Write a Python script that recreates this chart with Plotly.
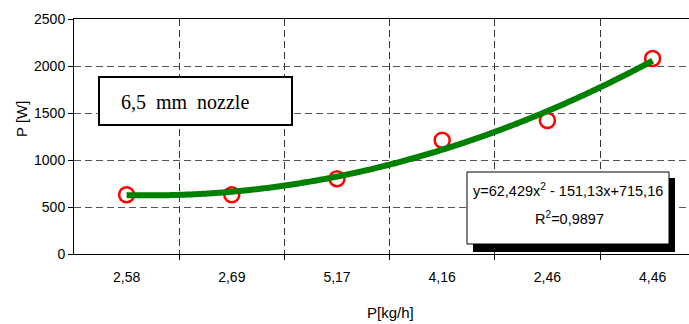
import numpy as np
import plotly.graph_objects as go

# ---- data ----
categories = ["2,58", "2,69", "5,17", "4,16", "2,46", "4,46"]
power_w = [630, 630, 800, 1210, 1420, 2080]
trend_coef = [62.429, -151.13, 715.16]   # y = a x^2 + b x + c (Excel poly trendline)
trend_label = "y=62,429x<sup>2</sup> - 151,13x+715,16"
r2_label = "R<sup>2</sup>=0,9897"
box_label = "6,5\u00a0\u00a0mm\u00a0\u00a0nozzle"
y_ticks = [0, 500, 1000, 1500, 2000, 2500]

xpos = list(range(1, len(categories) + 1))
xt = np.linspace(1, len(categories), 300)
yt = np.polyval(trend_coef, xt)

W, H = 689, 324
L, R, T, B = 74, 0, 19, 70
PW, PH = W - L - R, H - T - B


def px(x):
    return (x - L) / PW


def py(y):
    return (H - B - y) / PH


fig = go.Figure()
fig.add_trace(go.Scatter(
    x=xpos, y=power_w, mode="markers",
    marker=dict(symbol="circle-open", size=15, color="#ff0000",
                line=dict(width=2.5, color="#ff0000")),
    showlegend=False, hoverinfo="skip"))
fig.add_trace(go.Scatter(
    x=xt, y=yt, mode="lines",
    line=dict(color="#008000", width=6, simplify=False),
    showlegend=False, hoverinfo="skip"))

axis_font = dict(family="Liberation Sans, Arial, sans-serif", size=14, color="#000")

fig.update_layout(
    width=W, height=H,
    margin=dict(l=L, r=R, t=T, b=B, pad=0),
    paper_bgcolor="white", plot_bgcolor="white",
    font=axis_font,
    xaxis=dict(
        range=[0.5, 0.5 + PW / 105.2],
        tickmode="array", tickvals=xpos, ticktext=categories,
        ticks="", showgrid=False, zeroline=False,
        showline=True, linecolor="#000", linewidth=1, mirror=True,
        tickfont=axis_font, ticklabelstandoff=10,
        minor=dict(tickmode="array", tickvals=[1.5, 2.5, 3.5, 4.5, 5.5],
                   ticks="outside", ticklen=5, tickcolor="#000", tickwidth=1,
                   showgrid=True, gridcolor="#333", griddash="7px,4px", gridwidth=1),
    ),
    yaxis=dict(
        range=[0, 2500], tickmode="array", tickvals=y_ticks,
        ticks="outside", ticklen=5, tickcolor="#000",
        showgrid=True, gridcolor="#555", griddash="7px,4px", gridwidth=1,
        zeroline=False, showline=True, linecolor="#000", linewidth=1,
        tickfont=axis_font,
    ),
    shapes=[
        dict(type="rect", xref="paper", yref="paper", layer="above",
             x0=px(99), x1=px(292), y0=py(125), y1=py(77),
             line=dict(color="#000", width=2), fillcolor="white"),
        dict(type="rect", xref="paper", yref="paper", layer="above",
             x0=px(473), x1=px(675), y0=py(252), y1=py(178),
             line=dict(width=0), fillcolor="#000"),
        dict(type="rect", xref="paper", yref="paper", layer="above",
             x0=px(467), x1=px(669), y0=py(244), y1=py(172),
             line=dict(color="#000", width=1), fillcolor="white"),
    ],
    annotations=[
        dict(text=box_label, xref="paper", yref="paper", x=px(185), y=py(101.5),
             showarrow=False, xanchor="center", yanchor="middle",
             font=dict(family="Liberation Serif, Times New Roman, serif", size=20, color="#000")),
        dict(text=trend_label, xref="paper", yref="paper", x=px(568), y=py(190),
             showarrow=False, xanchor="center", yanchor="middle",
             font=dict(family="Liberation Sans, Arial, sans-serif", size=14.5, color="#000")),
        dict(text=r2_label, xref="paper", yref="paper", x=px(569), y=py(218),
             showarrow=False, xanchor="center", yanchor="middle",
             font=dict(family="Liberation Sans, Arial, sans-serif", size=14.5, color="#000")),
        dict(text="P [W]", xref="paper", yref="paper", x=px(22), y=py(119),
             showarrow=False, xanchor="center", yanchor="middle", textangle=-90,
             font=dict(family="Liberation Sans, Arial, sans-serif", size=15, color="#000")),
        dict(text="P[kg/h]", xref="paper", yref="paper", x=px(390), y=py(312),
             showarrow=False, xanchor="center", yanchor="middle",
             font=dict(family="Liberation Sans, Arial, sans-serif", size=15, color="#000")),
    ],
)

fig.write_html("out.html")
